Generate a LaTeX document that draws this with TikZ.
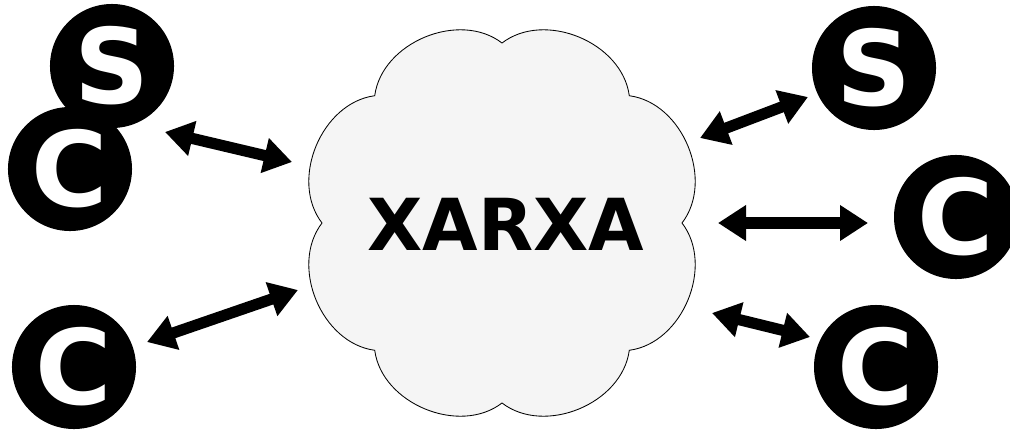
\documentclass[tikz,border=0pt]{standalone}
\usepackage{fontspec}
\newfontfamily\heavyfont{DejaVu Sans}
\usetikzlibrary{arrows.meta}

\begin{document}
\begin{tikzpicture}[x=0.025cm,y=0.025cm,
  host/.style={circle, fill=black, text=white, minimum size=3.1cm, inner sep=0pt,
    font=\heavyfont\bfseries\fontsize{74}{74}\selectfont},
  netcloud/.style={draw=black, line width=0.6pt, fill=black!4},
  netlabel/.style={inner sep=0pt, font=\heavyfont\bfseries\fontsize{51}{51}\selectfont},
  link/.style={line width=0.28cm, {Triangle[length=0.7cm,width=0.85cm]}-{Triangle[length=0.7cm,width=0.85cm]}}]

\useasboundingbox (0,0) rectangle (1010,430);

% la xarxa
\draw[netcloud, shift={(502,207)}] (0:180)
  \foreach \a in {45,90,...,360} { to[bend right=60] (\a:180) } -- cycle;
\node[netlabel] (xarxa) at (506,206) {XARXA};

% servidors i clients
\node[host] (s1) at (112,364) {S};
\node[host] (c1) at (70,261) {C};
\node[host] (c2) at (74,63) {C};
\node[host] (s2) at (874,362) {S};
\node[host] (c3) at (956,213) {C};
\node[host] (c4) at (876,63) {C};

% extrems de les fletxes
\coordinate (a1) at (165,298); \coordinate (b1) at (292,268);
\coordinate (a2) at (147,88);  \coordinate (b2) at (298,140);
\coordinate (a3) at (700,292); \coordinate (b3) at (808,333);
\coordinate (a4) at (718,207); \coordinate (b4) at (868,207);
\coordinate (a5) at (712,117); \coordinate (b5) at (810,93);

\draw[link] (a1) -- (b1);
\draw[link] (a2) -- (b2);
\draw[link] (a3) -- (b3);
\draw[link] (a4) -- (b4);
\draw[link] (a5) -- (b5);

\end{tikzpicture}
\end{document}
